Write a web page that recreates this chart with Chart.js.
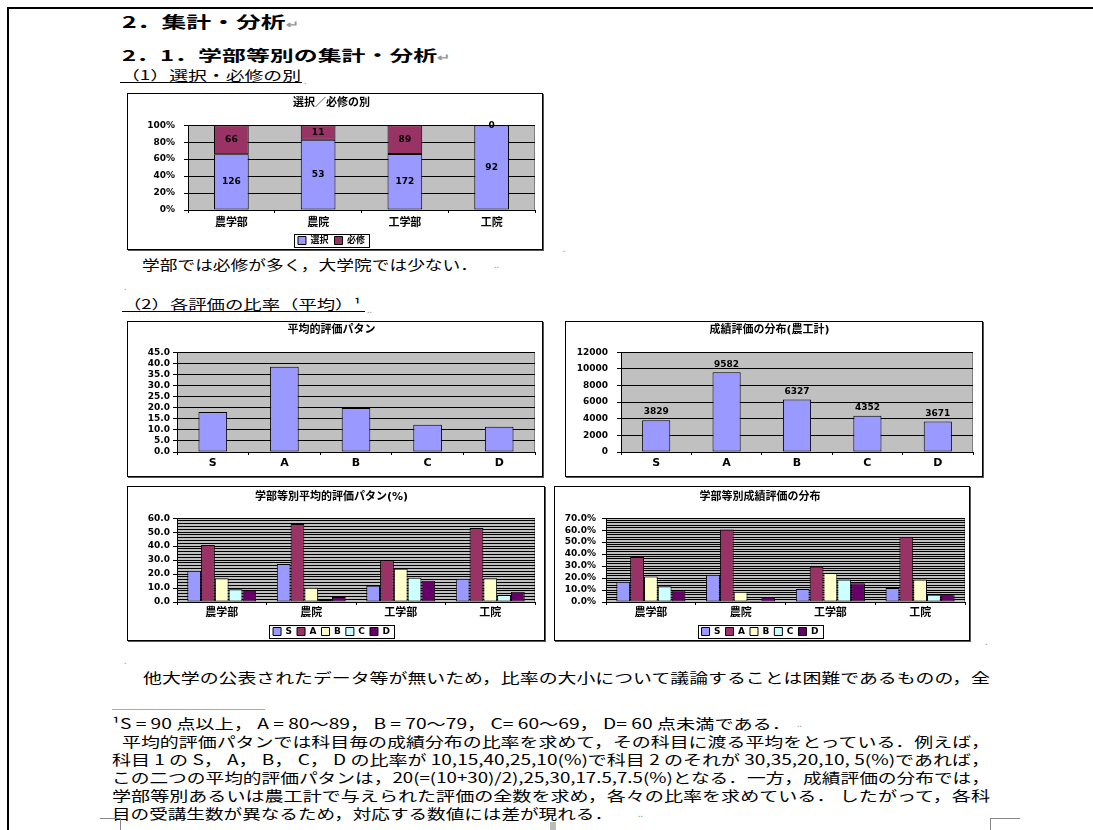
<!DOCTYPE html>
<html lang="ja">
<head>
<meta charset="utf-8">
<title>2．集計・分析</title>
<script src="https://cdn.jsdelivr.net/npm/chart.js@4.4.1/dist/chart.umd.min.js"></script>
<style>
body { margin: 0; background: #fff; }
#page { position: relative; width: 1093px; height: 830px; overflow: hidden; font-family: "Noto Sans CJK JP", sans-serif; color: #000; }
.t { position: absolute; white-space: nowrap; line-height: 1; transform-origin: left center; }
.h { font-weight: bold; }
.mk { position: absolute; color: #999; font-size: 9px; line-height: 1; }
.box { position: absolute; border: 1px solid #000; box-shadow: 1px 1px 0 #555; background: #fff; }
.box canvas { display: block; }
.ln { position: absolute; }
</style>
</head>
<body>
<div id="page">
  <!-- page frame -->
  <div class="ln" style="left:7px;top:7px;width:1090px;height:2px;background:#000"></div>
  <div class="ln" style="left:7px;top:7px;width:2px;height:830px;background:#000"></div>

  <div class="t h" style="left:122px;top:13px;font-size:16px" data-w="176">2．集計・分析<span style="color:#999;font-size:10px">↵</span></div>
  <div class="t h" style="left:122px;top:47px;font-size:15px" data-w="328">2．1．学部等別の集計・分析<span style="color:#999;font-size:10px">↵</span></div>
  <div class="t" style="left:121px;top:68px;font-size:13px" data-w="180">（1）選択・必修の別</div>
  <div class="ln" style="left:120px;top:82px;width:182px;height:1px;background:#000"></div>
  <div class="mk" style="left:304px;top:76px">.</div>

  <div class="box" style="left:127px;top:93px"><canvas id="c1" width="414" height="155"></canvas></div>
  <div class="mk" style="left:563px;top:244px">.</div>

  <div class="t" style="left:142px;top:257px;font-size:14px" data-w="336">学部では必修が多く，大学院では少ない．</div>
  <div class="mk" style="left:494px;top:260px">..</div>
  <div class="mk" style="left:124px;top:282px">.</div>

  <div class="t" style="left:123px;top:297px;font-size:13px" data-w="238">（2）各評価の比率（平均）¹</div>
  <div class="ln" style="left:122px;top:311px;width:243px;height:1px;background:#000"></div>
  <div class="mk" style="left:367px;top:305px">..</div>

  <div class="box" style="left:127px;top:321px"><canvas id="c2" width="414" height="154"></canvas></div>
  <div class="box" style="left:565px;top:321px"><canvas id="c3" width="416" height="154"></canvas></div>
  <div class="box" style="left:127px;top:486px"><canvas id="c4" width="416" height="153"></canvas></div>
  <div class="box" style="left:554px;top:486px"><canvas id="c5" width="414" height="153"></canvas></div>
  <div class="mk" style="left:985px;top:637px">.</div>
  <div class="mk" style="left:124px;top:656px">.</div>

  <div class="t" style="left:143px;top:670px;font-size:14px" data-w="847">他大学の公表されたデータ等が無いため，比率の大小について議論することは困難であるものの，全</div>
  <div class="ln" style="left:112px;top:709px;width:153px;height:1px;background:#aaa"></div>

  <div class="t" style="left:112px;top:716px;font-size:14px" data-w="679">¹S = 90 点以上， A = 80～89， B = 70～79， C= 60～69， D= 60 点未満である．</div>
  <div class="mk" style="left:797px;top:719px">..</div>
  <div class="t" style="left:122px;top:734px;font-size:14px" data-w="868">平均的評価パタンでは科目毎の成績分布の比率を求めて，その科目に渡る平均をとっている．例えば，</div>
  <div class="t" style="left:112px;top:752px;font-size:14px" data-w="878">科目 1 の S， A， B， C， D の比率が 10,15,40,25,10(%)で科目 2 のそれが 30,35,20,10, 5(%)であれば，</div>
  <div class="t" style="left:112px;top:770px;font-size:14px" data-w="878">この二つの平均的評価パタンは，20(=(10+30)/2),25,30,17.5,7.5(%)となる．一方，成績評価の分布では，</div>
  <div class="t" style="left:112px;top:788px;font-size:14px" data-w="878">学部等別あるいは農工計で与えられた評価の全数を求め，各々の比率を求めている． したがって，各科</div>
  <div class="t" style="left:112px;top:806px;font-size:14px" data-w="501">目の受講生数が異なるため，対応する数値には差が現れる．</div>
  <div class="mk" style="left:638px;top:809px">..</div>

  <!-- page corner marks -->
  <div class="ln" style="left:100px;top:818px;width:21px;height:1px;background:#888"></div>
  <div class="ln" style="left:120px;top:818px;width:1px;height:14px;background:#888"></div>
  <div class="ln" style="left:990px;top:818px;width:30px;height:1px;background:#888"></div>
  <div class="ln" style="left:990px;top:818px;width:1px;height:14px;background:#888"></div>
  <div class="ln" style="left:550px;top:822px;width:6px;height:8px;background:#bbb"></div>
</div>

<script>
//? categories
const gakubu = ['農学部', '農院', '工学部', '工院']
const hyoka = ['S', 'A', 'B', 'C', 'D']

//? (1) 選択／必修の別 (人数)
const sentaku = [126, 53, 172, 92]
const hisshu = [66, 11, 89, 0]

//? 平均的評価パタン (%)
const heikinPattern = [18.0, 38.4, 19.8, 12.3, 11.4]

//? 成績評価の分布 (農工計, 件数)
const bunpuNoko = [3829, 9582, 6327, 4352, 3671]

//? 学部等別平均的評価パタン (%) : 農学部, 農院, 工学部, 工院
const heikinS = [22.4, 27.2, 11.6, 16.6]
const heikinA = [40.8, 55.8, 29.8, 53.0]
const heikinB = [17.0, 10.2, 23.8, 17.0]
const heikinC = [9.1, 1.6, 17.4, 5.0]
const heikinD = [8.8, 3.6, 15.2, 7.4]

//? 学部等別成績評価の分布 (%)
const bunpuS = [17.0, 22.8, 10.9, 11.7]
const bunpuA = [37.6, 60.6, 29.5, 54.6]
const bunpuB = [21.2, 8.6, 24.3, 18.7]
const bunpuC = [13.1, 1.1, 18.7, 6.1]
const bunpuD = [9.8, 4.2, 15.6, 6.7]

const colS = '#9999ff'
const colA = '#993366'
const colB = '#ffffcc'
const colC = '#ccffff'
const colD = '#660066'

//* stretch page text to the widths of the scan
document.querySelectorAll('.t[data-w]').forEach(el => {
  const w = el.getBoundingClientRect().width
  el.style.transform = `scaleX(${el.dataset.w / w})`
})

Chart.defaults.font.family = '"DejaVu Sans", "Noto Sans CJK JP", sans-serif'
Chart.defaults.font.weight = 'bold'
Chart.defaults.font.size = 9
Chart.defaults.color = '#000'
Chart.defaults.animation = false
Chart.defaults.responsive = false
Chart.defaults.plugins.tooltip.enabled = false

//? gray plot area like Excel
const plotBg = {
  id: 'plotBg',
  beforeDraw(chart) {
    const { ctx, chartArea: a } = chart
    ctx.save()
    ctx.fillStyle = '#c0c0c0'
    ctx.fillRect(a.left, a.top, a.right - a.left, a.bottom - a.top)
    ctx.strokeStyle = '#808080'
    ctx.lineWidth = 1
    ctx.strokeRect(Math.round(a.left) + 0.5, Math.round(a.top) + 0.5, Math.round(a.right - a.left) - 1, Math.round(a.bottom - a.top))
    ctx.restore()
  }
}

//? numbers on the bars
const valueLabels = {
  id: 'valueLabels',
  afterDatasetsDraw(chart, args, opts) {
    const ctx = chart.ctx
    ctx.save()
    ctx.font = 'bold 9px "DejaVu Sans", sans-serif'
    ctx.fillStyle = '#000'
    ctx.textAlign = 'center'
    ctx.textBaseline = 'middle'
    chart.data.datasets.forEach((ds, di) => {
      if (!ds.valueText) return
      chart.getDatasetMeta(di).data.forEach((bar, i) => {
        const p = bar.getProps(['x', 'y', 'base'], true)
        const y = opts.mode === 'top' ? p.y - 8 : (p.y + p.base) / 2
        ctx.fillText(ds.valueText[i], p.x, y)
      })
    })
    ctx.restore()
  }
}

//? border round the legend
const legendBox = {
  id: 'legendBox',
  afterDraw(chart) {
    const lg = chart.legend
    if (!lg || !lg.options.display || !lg.legendHitBoxes.length) return
    const hb = lg.legendHitBoxes
    const l = Math.min(...hb.map(h => h.left))
    const r = Math.max(...hb.map(h => h.left + h.width))
    const t = Math.min(...hb.map(h => h.top))
    const b = Math.max(...hb.map(h => h.top + h.height))
    const ctx = chart.ctx
    ctx.save()
    ctx.strokeStyle = '#000'
    ctx.lineWidth = 1
    ctx.strokeRect(Math.round(l - 4) + 0.5, Math.round(t - 2) + 0.5, Math.round(r - l + 8), Math.round(b - t + 4))
    ctx.restore()
  }
}

function xAxis(height, pad, stacked) {
  return {
    stacked: stacked,
    afterFit: s => { s.height = height },
    border: { display: true, color: '#000' },
    grid: { display: true, drawOnChartArea: false, offset: true, color: '#000', tickLength: 3 },
    ticks: { padding: pad, maxRotation: 0, autoSkip: false, font: { size: 11, weight: 'bold' } }
  }
}

function yAxis(max, step, width, pad, fmt, major, stacked) {
  return {
    stacked: stacked,
    min: 0,
    max: max,
    afterFit: s => { s.width = width },
    border: { display: true, color: '#000' },
    grid: {
      color: '#000',
      tickLength: 4,
      tickColor: c => (c.tick && c.tick.value % major === 0) ? '#000' : 'rgba(0,0,0,0)'
    },
    ticks: { stepSize: step, padding: pad, autoSkip: false, font: { size: 9, weight: 'bold' }, callback: fmt }
  }
}

function title(text, top, bottom) {
  return { display: true, text: text, color: '#000', font: { size: 11, weight: 'bold' }, padding: { top: top, bottom: bottom } }
}

function legend(pad, maxH) {
  return {
    display: true, position: 'bottom', maxHeight: maxH,
    labels: { boxWidth: 8, boxHeight: 8, padding: pad, color: '#000', font: { size: 9, weight: 'bold' } }
  }
}

function bars(label, data, color, extra) {
  return Object.assign({
    label: label, data: data, backgroundColor: color,
    borderColor: '#000', borderWidth: 1, borderSkipped: false
  }, extra || {})
}

//* (1) 選択／必修の別
new Chart(document.getElementById('c1'), {
  type: 'bar',
  data: {
    labels: gakubu,
    datasets: [
      bars('選択', sentaku.map((v, i) => v / (v + hisshu[i]) * 100), colS, { valueText: sentaku }),
      bars('必修', hisshu.map((v, i) => v / (sentaku[i] + v) * 100), colA, { valueText: hisshu })
    ]
  },
  options: {
    layout: { padding: { right: 7 } },
    datasets: { bar: { barPercentage: 0.4, categoryPercentage: 1 } },
    plugins: {
      title: title('選択／必修の別', 3, 15),
      legend: legend(6, 19),
      valueLabels: { mode: 'mid' }
    },
    scales: {
      x: xAxis(20, 4, true),
      y: yAxis(100, 20, 60, 9, v => v + '%', 20, true)
    }
  },
  plugins: [plotBg, valueLabels, legendBox]
})

//* 平均的評価パタン
new Chart(document.getElementById('c2'), {
  type: 'bar',
  data: {
    labels: hyoka,
    datasets: [bars('平均的評価パタン', heikinPattern, colS)]
  },
  options: {
    layout: { padding: { right: 7 } },
    datasets: { bar: { barPercentage: 0.4, categoryPercentage: 1 } },
    plugins: {
      title: title('平均的評価パタン', 2, 15),
      legend: { display: false }
    },
    scales: {
      x: xAxis(24, 2, false),
      y: yAxis(45, 5, 49, 3, v => v.toFixed(1), 5, false)
    }
  },
  plugins: [plotBg]
})

//* 成績評価の分布(農工計)
new Chart(document.getElementById('c3'), {
  type: 'bar',
  data: {
    labels: hyoka,
    datasets: [bars('成績評価の分布', bunpuNoko, colS, { valueText: bunpuNoko })]
  },
  options: {
    layout: { padding: { right: 9 } },
    datasets: { bar: { barPercentage: 0.4, categoryPercentage: 1 } },
    plugins: {
      title: title('成績評価の分布(農工計)', 2, 15),
      legend: { display: false },
      valueLabels: { mode: 'top' }
    },
    scales: {
      x: xAxis(24, 2, false),
      y: yAxis(12000, 2000, 55, 9, v => String(v), 2000, false)
    }
  },
  plugins: [plotBg, valueLabels]
})

//* 学部等別平均的評価パタン(%)
new Chart(document.getElementById('c4'), {
  type: 'bar',
  data: {
    labels: gakubu,
    datasets: [
      bars('S', heikinS, colS),
      bars('A', heikinA, colA),
      bars('B', heikinB, colB),
      bars('C', heikinC, colC),
      bars('D', heikinD, colD)
    ]
  },
  options: {
    layout: { padding: { right: 9 } },
    datasets: { bar: { barPercentage: 1, categoryPercentage: 0.77 } },
    plugins: {
      title: title('学部等別平均的評価パタン(%)', 4, 14),
      legend: legend(5, 18)
    },
    scales: {
      x: xAxis(20, 2, false),
      y: yAxis(60, 2, 49, 3, v => v % 10 === 0 ? v.toFixed(1) : '', 10, false)
    }
  },
  plugins: [plotBg, legendBox]
})

//* 学部等別成績評価の分布
new Chart(document.getElementById('c5'), {
  type: 'bar',
  data: {
    labels: gakubu,
    datasets: [
      bars('S', bunpuS, colS),
      bars('A', bunpuA, colA),
      bars('B', bunpuB, colB),
      bars('C', bunpuC, colC),
      bars('D', bunpuD, colD)
    ]
  },
  options: {
    layout: { padding: { right: 4 } },
    datasets: { bar: { barPercentage: 1, categoryPercentage: 0.77 } },
    plugins: {
      title: title('学部等別成績評価の分布', 4, 14),
      legend: legend(5, 18)
    },
    scales: {
      x: xAxis(20, 2, false),
      y: yAxis(70, 2, 51, 6, v => v % 10 === 0 ? v.toFixed(1) + '%' : '', 10, false)
    }
  },
  plugins: [plotBg, legendBox]
})
</script>
</body>
</html>
